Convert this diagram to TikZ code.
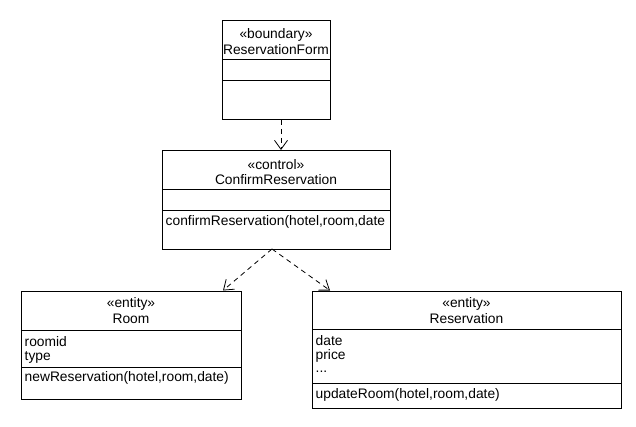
\documentclass[tikz,border=0pt]{standalone}
\usepackage{fontspec}
\setmainfont{Liberation Sans}
\usetikzlibrary{arrows.meta}
\begin{document}
\begin{tikzpicture}[x=1pt,y=-1pt,
  cls/.style={draw,line width=0.9pt,inner sep=0pt,anchor=north west},
  sep/.style={line width=0.9pt},
  txt/.style={inner sep=0pt,font=\fontsize{13.8}{15}\selectfont},
  lt/.style={txt,anchor=west},
  dep/.style={line width=0.8pt,dash pattern=on 5pt off 4pt,-{Straight Barb[length=9pt,width=13pt,line width=0.8pt]}}]
\useasboundingbox[fill=white] (0,0) rectangle (636,427);
% ReservationForm
\node[cls,minimum width=108pt,minimum height=99pt] (form) at (222,20) {};
\draw[sep] (222,59) -- (330,59) (222,80) -- (330,80);
\node[txt] (formst) at (276,35) {«boundary»};
\node[txt] (formnm) at (276,49.5) {ReservationForm};
% ConfirmReservation
\node[cls,minimum width=228pt,minimum height=99pt] (ctrl) at (162,150) {};
\draw[sep] (162,189) -- (390,189) (162,210) -- (390,210);
\node[txt] (ctrlst) at (276,164.5) {«control»};
\node[txt] (ctrlnm) at (276,179.5) {ConfirmReservation};
\node[lt] (ctrlop) at (165.5,222) {confirmReservation(hotel,room,date};
% Room
\node[cls,minimum width=220pt,minimum height=108pt] (room) at (21,291) {};
\draw[sep] (21,330) -- (241,330) (21,367) -- (241,367);
\node[txt] (roomst) at (131,303.5) {«entity»};
\node[txt] (roomnm) at (131,319) {Room};
\node[lt] (roomat1) at (24.5,342) {roomid};
\node[lt] (roomat2) at (24.5,357) {type};
\node[lt] (roomop) at (24.5,377.5) {newReservation(hotel,room,date)};
% Reservation
\node[cls,minimum width=309pt,minimum height=117pt] (resv) at (312,291) {};
\draw[sep] (312,329) -- (621,329) (312,383) -- (621,383);
\node[txt] (resvst) at (466.5,303.5) {«entity»};
\node[txt] (resvnm) at (466.5,319) {Reservation};
\node[lt] (resvat1) at (315.5,341) {date};
\node[lt] (resvat2) at (315.5,356) {price};
\node[lt] (resvat3) at (315.5,372) {...};
\node[lt] (resvop) at (315.5,395) {updateRoom(hotel,room,date)};
% connectors
\coordinate (cs) at (272,249);
\coordinate (rt) at (223,290.5);
\coordinate (vt) at (330,290.5);
\draw[dep] (form.south -| 281,0) -- (ctrl.north -| 281,0);
\draw[dep] (cs) -- (rt);
\draw[dep] (cs) -- (vt);
\end{tikzpicture}
\end{document}
